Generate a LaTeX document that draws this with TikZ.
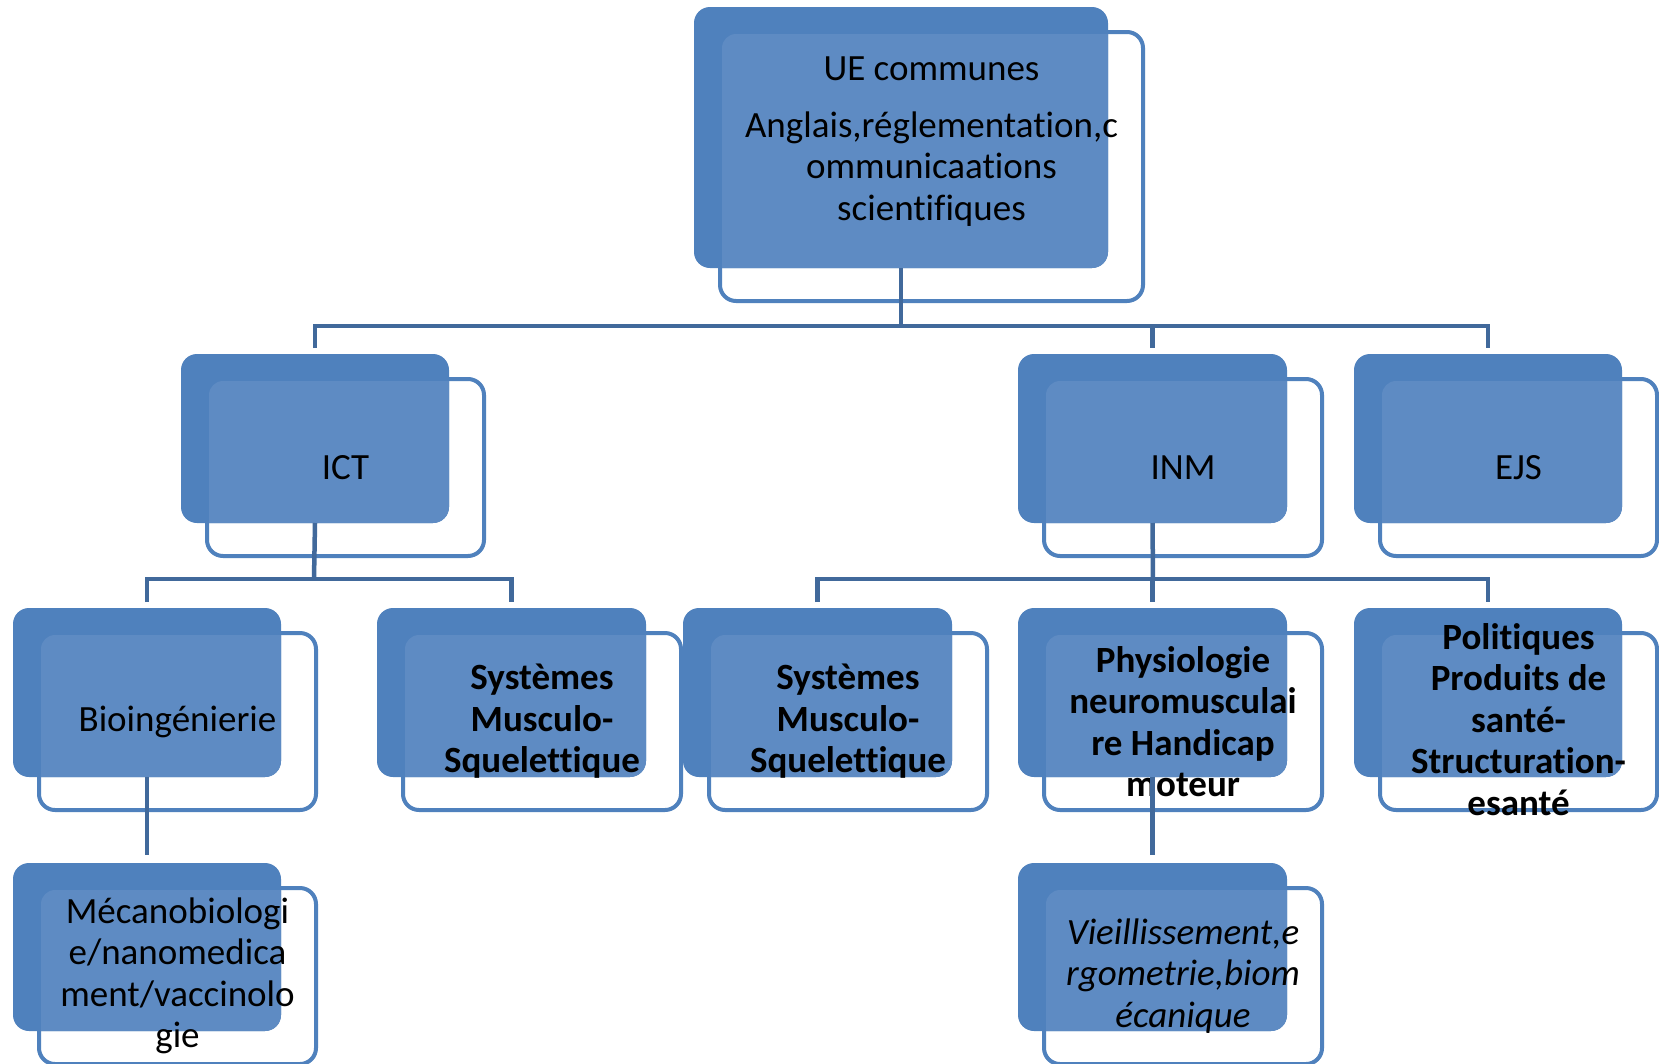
\documentclass[tikz,border=0pt]{standalone}
\usepackage{fontspec}
\setmainfont{Carlito}[Ligatures=CommonOff]
\definecolor{accblue}{HTML}{4F81BD}
\definecolor{linkblue}{HTML}{41699B}
\definecolor{overblue}{HTML}{5E8BC3}
\tikzset{
  frontbox/.style={draw=accblue, line width=4pt, fill=white, rounded corners=16pt, inner sep=0pt, outer sep=0pt},
  backbox/.style={fill=accblue, rounded corners=16pt, inner sep=0pt, outer sep=0pt},
  unittext/.style={align=center, inner sep=0pt, font=\fontsize{37}{41.5}\selectfont},
  boldtext/.style={unittext, font=\fontsize{37}{41.5}\selectfont\bfseries},
  italtext/.style={unittext, font=\fontsize{37}{41.5}\selectfont\itshape},
  link/.style={draw=linkblue, line width=4.5pt},
}
% #1 name, #2 x, #3 y (top-left of back box), #4 width, #5 height
\newcommand\orgunit[5]{%
  \node[frontbox, anchor=north west, minimum width=#4pt+9pt, minimum height=#5pt+8pt] (#1-b) at (#2+26,#3+25) {};
  \node[backbox, anchor=north west, minimum width=#4pt, minimum height=#5pt] (#1) at (#2,#3) {};
  \begin{scope}
    \clip[rounded corners=16pt] (#1.north west) rectangle (#1.south east);
    \fill[overblue, rounded corners=14pt] ([shift={(2pt,-2pt)}]#1-b.north west) rectangle ([shift={(-2pt,2pt)}]#1-b.south east);
  \end{scope}
}
\begin{document}
\begin{tikzpicture}[x=1pt, y=-1pt]
\useasboundingbox[fill=white] (0,0) rectangle (1659,1063);

\orgunit{root}{694}{7}{414}{261}
\orgunit{ict}{181}{354}{268}{169}
\orgunit{inm}{1018}{354}{269}{169}
\orgunit{ejs}{1354}{354}{268}{169}
\orgunit{bio}{13}{608}{268}{169}
\orgunit{smsa}{377}{608}{269}{169}
\orgunit{smsb}{683}{608}{269}{169}
\orgunit{phys}{1018}{608}{269}{169}
\orgunit{pol}{1354}{608}{268}{169}
\orgunit{meca}{13}{863}{268}{168}
\orgunit{vieil}{1018}{863}{269}{168}

\node[unittext] (root-t) at ([yshift=25pt]root-b.center) {UE communes\\[15pt]Anglais,réglementation,c\\ommunicaations\\scientifiques};
\node[unittext] (ict-t) at (ict-b.center) {ICT};
\node[unittext] (inm-t) at (inm-b.center) {INM};
\node[unittext] (ejs-t) at (ejs-b.center) {EJS};
\node[unittext] (bio-t) at (bio-b.center) {Bioingénierie};
\node[boldtext] (smsa-t) at (smsa-b.center) {Systèmes\\Musculo-\\Squelettique};
\node[boldtext] (smsb-t) at (smsb-b.center) {Systèmes\\Musculo-\\Squelettique};
\node[boldtext] (phys-t) at (phys-b.center) {Physiologie\\neuromusculai\\re Handicap\\moteur};
\node[boldtext] (pol-t) at ([yshift=2pt]pol-b.center) {Politiques\\Produits de\\santé-\\Structuration-\\esanté};
\node[unittext] (meca-t) at (meca-b.center) {Mécanobiologi\\e/nanomedica\\ment/vaccinolo\\gie};
\node[italtext] (vieil-t) at (vieil-b.center) {Vieillissement,e\\rgometrie,biom\\écanique};

% connectors
\coordinate (j0) at (901,326);
\coordinate (j1) at (314,579);
\coordinate (j2) at (1153,579);
\draw[link] (root.south) -- (j0);
\draw[link] ([yshift=6pt]ict.north) -- (ict.north |- j0) -- (ejs.north |- j0) -- ([yshift=6pt]ejs.north);
\draw[link] (inm.north |- j0) -- ([yshift=6pt]inm.north);
\draw[link] (ict.south) -- (j1);
\draw[link] ([yshift=6pt]bio.north) -- (bio.north |- j1) -- (smsa.north |- j1) -- ([yshift=6pt]smsa.north);
\draw[link] (inm.south) -- (j2);
\draw[link] ([yshift=6pt]smsb.north) -- (smsb.north |- j2) -- (pol.north |- j2) -- ([yshift=6pt]pol.north);
\draw[link] (phys.north |- j2) -- ([yshift=6pt]phys.north);
\draw[link, shorten >=8pt] (bio.south) -- (meca.north);
\draw[link, shorten >=8pt] (phys.south) -- (vieil.north);
\end{tikzpicture}
\end{document}
